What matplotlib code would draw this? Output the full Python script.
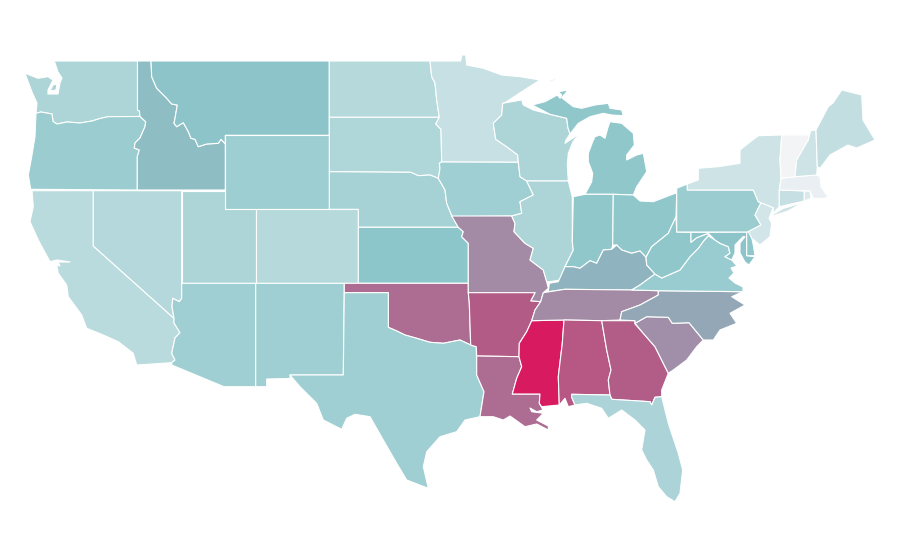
"""Choropleth of the contiguous US states, outlines traced by hand."""

import matplotlib

matplotlib.use("Agg")
import matplotlib.pyplot as plt
from matplotlib.collections import PolyCollection
from matplotlib.colors import LinearSegmentedColormap, Normalize

states = ["WA", "OR", "CA", "NV", "ID", "MT", "WY", "UT", "AZ", "CO", "NM", "ND", "SD", "NE", "KS", "OK", "TX",
          "MN", "IA", "MO", "AR", "LA", "WI", "IL", "MS", "MI", "IN", "OH", "KY", "TN", "AL", "GA", "FL", "SC",
          "NC", "VA", "WV", "MD", "DE", "PA", "NJ", "NY", "CT", "RI", "MA", "VT", "NH", "ME"]
rates = [27.0, 34.0, 22.0, 24.5, 43.0, 41.0, 33.5, 27.0, 32.5, 23.5, 32.5, 23.5, 26.5, 30.0, 40.0, 66.0, 32.5,
         17.5, 32.5, 58.0, 71.0, 66.0, 27.0, 27.0, 100.0, 39.0, 39.0, 39.0, 46.0, 58.0, 73.0, 70.0, 27.5, 57.0,
         50.0, 35.0, 39.0, 41.0, 39.0, 34.0, 13.0, 14.5, 18.0, 10.0, 4.0, 0.0, 15.0, 19.0]

outlines = {
    "WA": [[(54, 61), (137.5, 61), (137.5, 110), (139.5, 111), (140, 116.5), (108, 116.7), (100, 118.5), (92, 121),
            (80, 123), (67, 122), (57, 124), (53, 121.5), (52, 114), (41, 112), (36, 113.3), (37, 103), (32, 92),
            (25, 73.3), (38, 78.3), (48, 76.7), (53, 80), (48, 90), (48, 94), (58, 94), (60, 83), (62, 78),
            (58, 72), (55, 63)],
           [(53, 85), (57, 84), (56, 90), (50, 91)]],
    "OR": [[(36, 113.3), (41, 112), (52, 114), (53, 121.5), (57, 124), (67, 122), (80, 123), (92, 121), (100, 118.5),
            (108, 116.7), (140, 116.5), (145.7, 121.7), (145, 126.7), (140, 138), (135, 143), (134.3, 148),
            (139.3, 150), (137.3, 156.7), (137.3, 190), (30.7, 189.3), (28.3, 175), (31.7, 156.7), (35, 136.7)]],
    "CA": [[(32, 190.7), (93.3, 190.7), (93.3, 246), (174, 318.3), (174, 323), (180, 332.7), (175, 338),
            (171.7, 353.3), (175, 360), (171.7, 362.7), (136.7, 365), (133.3, 353.3), (118.3, 341.7), (103.3, 335),
            (86.7, 328.3), (81.7, 315), (68.3, 296.7), (66.7, 285), (58.3, 273.3), (56.7, 265), (60, 266),
            (58, 262), (70, 262), (57, 260), (50, 261.7), (38.3, 240), (30, 221.7), (33.3, 206.7)]],
    "NV": [[(93.3, 190.7), (181.7, 190.7), (181.7, 298.3), (179.3, 301.7), (172.7, 298.3), (172, 306.7), (174, 318.3),
            (93.3, 246)]],
    "ID": [[(137.5, 61), (151, 61), (151.7, 76.7), (156.7, 88.3), (166.7, 98.3), (171.7, 104), (177.3, 105),
            (175, 118.3), (174, 123.3), (176.7, 126.7), (183.3, 122.7), (188.3, 131.7), (191, 138.3), (195, 139.3),
            (198.3, 146.7), (206.7, 144), (218.3, 143.3), (221, 139.3), (225.3, 144), (225.3, 190), (137.3, 190),
            (137.3, 156.7), (139.3, 150), (134.3, 148), (135, 143), (140, 138), (145, 126.7), (145.7, 121.7),
            (140, 116.5), (139.5, 111), (137.5, 110)]],
    "MT": [[(151, 61), (329.3, 61), (329.3, 135.3), (225.3, 135.3), (225.3, 144), (221, 139.3), (218.3, 143.3),
            (206.7, 144), (198.3, 146.7), (195, 139.3), (191, 138.3), (188.3, 131.7), (183.3, 122.7), (176.7, 126.7),
            (174, 123.3), (175, 118.3), (177.3, 105), (171.7, 104), (166.7, 98.3), (156.7, 88.3), (151.7, 76.7)]],
    "WY": [[(225.3, 135.3), (329.3, 135.3), (329.3, 209.3), (225.3, 209.3)]],
    "UT": [[(181.7, 190.7), (225.3, 190.7), (225.3, 209.3), (255.7, 209.3), (255.7, 283.3), (181.7, 283.3)]],
    "AZ": [[(181.7, 283.3), (255.7, 283.3), (255.7, 386.7), (224, 386.7), (171.7, 365), (171.7, 362.7), (175, 360),
            (171.7, 353.3), (175, 338), (180, 332.7), (174, 323), (174, 318.3), (172, 306.7), (172.7, 298.3),
            (179.3, 301.7), (181.7, 298.3)]],
    "CO": [[(255.7, 209.3), (358.3, 209.3), (358.3, 283.3), (255.7, 283.3)]],
    "NM": [[(255.7, 283.3), (344.3, 283.3), (343.3, 375), (290, 375), (290, 378.5), (266.7, 379), (266.7, 386.7),
            (255.7, 386.7)]],
    "ND": [[(329.3, 61), (430, 61), (431.7, 76.7), (435, 83), (436.7, 100), (439.3, 117.3), (329.3, 117.3)]],
    "SD": [[(329.3, 117.3), (439.3, 117.3), (435.7, 124), (441, 129.3), (441.7, 161.7), (439.3, 163.3), (440, 168.3),
            (438.3, 178.3), (430, 175), (418.3, 175.7), (410.7, 172.3), (329.3, 171.7)]],
    "NE": [[(329.3, 171.7), (410.7, 172.3), (418.3, 175.7), (430, 175), (438.3, 178.3), (445, 190), (446.7, 203.3),
            (451.7, 215.7), (458.3, 227.3), (358.3, 227.3), (358.3, 209.3), (329.3, 209.3)]],
    "KS": [[(358.3, 227.3), (458.3, 227.3), (463.3, 231.7), (461.7, 236.7), (468.3, 243.3), (468.3, 283.3),
            (358.3, 283.3)]],
    "OK": [[(344.3, 283.3), (468.3, 283.3), (468.3, 292.7), (469.3, 303), (470.7, 345), (460, 340), (443.3, 343.3),
            (430, 342.3), (416.7, 338.3), (405, 335), (396.7, 331), (388.3, 327.3), (388.3, 292.7), (344.3, 292.7)]],
    "TX": [[(344.3, 292.7), (388.3, 292.7), (388.3, 327.3), (396.7, 331), (405, 335), (416.7, 338.3), (430, 342.3),
            (443.3, 343.3), (460, 340), (470.7, 345), (476.3, 346.7), (476.7, 375), (484, 391.7), (480, 416.7),
            (465, 420), (456.7, 431.7), (440, 436.7), (426.7, 451.7), (423.3, 466.7), (428.3, 488.3), (406.7, 480),
            (396.7, 463.3), (383.3, 440), (370, 416.7), (355, 414.3), (346.7, 418.3), (341.7, 429.3), (323.3, 420),
            (316.7, 403.3), (300, 386.7), (290, 375), (343.3, 375)]],
    "MN": [[(430, 61), (460.7, 61), (461.7, 55), (465.7, 55), (466.7, 65), (483.3, 68.3), (501.7, 75), (520, 76.7),
            (540, 80), (521.7, 91.7), (505, 102.7), (502.7, 103.3), (501.7, 115), (493.3, 123.3), (495.7, 139.3),
            (506.7, 146.7), (517.7, 155), (518.3, 162.3), (441.7, 162), (441, 129.3), (435.7, 124), (439.3, 117.3),
            (436.7, 100), (435, 83), (431.7, 76.7)]],
    "IA": [[(441.7, 162), (518.3, 162.3), (520, 176.7), (526.7, 181), (533.3, 195), (520, 201.7), (521.7, 213.3),
            (511.7, 216), (452.3, 216.7), (446.7, 203.3), (445, 190), (438.3, 178.3), (440, 168.3), (439.3, 163.3)]],
    "MO": [[(451.7, 216), (511.7, 216), (515, 223.3), (514, 231.7), (525, 243.3), (533.3, 248.3), (530, 260),
            (543.3, 270), (546.7, 281.7), (548.3, 288.3), (543.3, 292.7), (540.7, 301.7), (530.7, 301), (535, 292.7),
            (468.3, 292.7), (468.3, 243.3), (461.7, 236.7), (463.3, 231.7), (458.3, 227.3)]],
    "AR": [[(468.3, 292.7), (535, 292.7), (530.7, 301), (540.7, 301.7), (535, 310), (531.7, 320.7), (526.7, 331.7),
            (519.3, 343.3), (519, 356.7), (476.7, 356), (476.3, 346.7), (470.7, 345), (469.3, 303)]],
    "LA": [[(476.7, 356), (519, 356.7), (521.7, 366.7), (516.7, 378.3), (512.3, 394), (540, 394), (539.3, 403.3),
            (543, 410), (536.7, 411.7), (530, 408), (531.7, 411.7), (543.3, 413.3), (536.7, 420), (548.3, 426),
            (548.3, 430), (536.7, 424), (525, 426.7), (510, 416), (503.3, 420), (493.3, 416.7), (480, 416.7),
            (484, 391.7), (476.7, 375)]],
    "WI": [[(502.7, 103.3), (521.7, 100), (523.3, 105), (533.3, 110), (550, 114.3), (566.7, 118.3), (568, 128),
            (570, 134), (566, 140), (565, 143.3), (575, 136.7), (580, 133), (573, 141.7), (568.3, 153.3),
            (567.3, 165), (568.3, 181), (526.7, 181), (520, 176.7), (518.3, 162.3), (517.7, 155), (506.7, 146.7),
            (495.7, 139.3), (493.3, 123.3), (501.7, 115)]],
    "IL": [[(526.7, 181), (568.3, 181), (572.3, 197), (572.3, 241.7), (573.3, 250), (565, 266.7), (560, 280),
            (550, 281.7), (546.7, 281.7), (543.3, 270), (530, 260), (533.3, 248.3), (525, 243.3), (514, 231.7),
            (515, 223.3), (511.7, 216), (521.7, 213.3), (520, 201.7), (533.3, 195)]],
    "MS": [[(531.7, 320.7), (564, 320), (562.3, 343.3), (558.3, 376.7), (559.3, 405), (541.7, 406.7), (539.3, 403.3),
            (540, 394), (512.3, 394), (516.7, 378.3), (521.7, 366.7), (519, 356.7), (519.3, 343.3), (526.7, 331.7)]],
    "MI": [[(532.3, 105), (545, 101.7), (557.3, 95), (560, 98.3), (561.7, 95), (558.3, 91.7), (568.3, 90),
            (561.7, 97.7), (573.3, 106.7), (581.7, 108.3), (595, 105), (608.3, 103.3), (610, 108.3), (621.7, 110),
            (623.3, 115.7), (611.7, 115), (603.3, 113.3), (590, 116.7), (578.3, 123.3), (570, 134), (568, 128),
            (566.7, 118.3), (550, 114.3)],
           [(585, 194.3), (591.7, 181.7), (592.7, 173.3), (588.3, 161.7), (588.3, 153.3), (592.7, 141.7), (595, 136.7),
            (600, 135), (605, 138.3), (607.7, 128.3), (610, 121.7), (621.7, 123.3), (633.3, 133.3), (634.3, 145),
            (626.7, 155), (626.7, 160), (636.7, 155), (643.3, 153.3), (646.7, 171.7), (636.7, 186.7), (633.3, 195),
            (613.3, 194.3)],
           [(549, 81), (555.7, 78.3), (556, 79.5), (550, 82)]],
    "IN": [[(573.3, 196.7), (585, 194.3), (613.3, 194.3), (612.7, 245), (611.7, 249.3), (603.3, 250), (596.7, 263.3),
            (590, 260.7), (580, 268.3), (573.3, 266.7), (565, 266.7), (573.3, 250), (572.3, 241.7)]],
    "OH": [[(613.3, 194.3), (633.3, 195), (640, 201), (653.3, 201.7), (676.7, 192.7), (676, 216.7), (668.3, 233.3),
            (660, 240), (651.7, 246.7), (646, 257.3), (640, 251), (631.7, 253.3), (621.7, 250), (616.7, 245),
            (612.7, 245)]],
    "KY": [[(548.3, 291.7), (549.3, 283.3), (558.3, 281.7), (565, 266.7), (573.3, 266.7), (580, 268.3), (590, 260.7),
            (596.7, 263.3), (603.3, 250), (611.7, 249.3), (616.7, 245), (621.7, 250), (631.7, 253.3), (640, 251),
            (646, 257.3), (646.7, 265), (655, 274), (640, 285), (631.7, 290), (565, 289.3)]],
    "TN": [[(543.3, 292.7), (565, 289.3), (631.7, 290), (658.3, 290.7), (658.3, 295), (640, 305), (621.7, 311.7),
            (620, 320), (601.7, 320.7), (564, 320), (531.7, 320.7), (535, 310), (540.7, 301.7)]],
    "AL": [[(564, 320), (601.7, 320.7), (606.7, 350), (611, 370), (608.3, 380), (610, 395), (571.7, 394.3),
            (571.7, 397.3), (575, 405), (568.3, 406.7), (565, 398.3), (559.3, 405), (558.3, 376.7), (562.3, 343.3)]],
    "GA": [[(601.7, 320.7), (635, 320.7), (635, 324), (643.3, 333.3), (655, 346.7), (663.3, 363.3), (668.3, 373.3),
            (661.7, 390), (661.7, 396.7), (655, 397.3), (651.7, 405), (650, 401.7), (611.7, 399.3), (610, 395),
            (608.3, 380), (611, 370), (606.7, 350)]],
    "FL": [[(571.7, 394.3), (610, 395), (611.7, 399.3), (650, 401.7), (651.7, 405), (655, 397.3), (661.7, 396.7),
            (668.3, 423.3), (678.3, 453.3), (682.7, 470), (680, 493.3), (675, 501.7), (666.7, 496.7), (658.3, 486.7),
            (653.3, 470), (646.7, 460), (641.7, 450), (645, 430), (635, 420), (621.7, 410), (608.3, 418.3),
            (601.7, 408.3), (586.7, 403.3), (575, 405), (571.7, 397.3)]],
    "SC": [[(635, 323.3), (646.7, 316.7), (668.3, 317.3), (672.3, 323.3), (689, 322.7), (703.3, 340), (696.7, 346.7),
            (686.7, 360), (673.3, 370), (668.3, 373.3), (663.3, 363.3), (655, 346.7), (643.3, 333.3)]],
    "NC": [[(620, 320), (621.7, 311.7), (640, 305), (658.3, 295), (658.3, 290.7), (742.7, 291.7), (731.7, 296.7),
            (745, 305), (730, 313.3), (736.7, 323.3), (720, 330), (713.3, 340), (703.3, 340), (689, 322.7),
            (672.3, 323.3), (668.3, 317.3), (646.7, 316.7), (635, 323.3), (635, 320.7)]],
    "VA": [[(631.7, 290), (640, 285), (655, 274), (661.7, 278), (680, 270), (690, 256.7), (698.3, 248.3), (703, 241.7),
            (708.3, 235.7), (715, 240), (720, 243.3), (728.3, 246.7), (730, 253.3), (725, 256.7), (731.7, 260),
            (737, 266), (731, 268), (734, 273), (729, 278), (735, 283), (743, 287), (743, 291.7), (658.3, 290.7)]],
    "WV": [[(646, 257.3), (651.7, 246.7), (660, 240), (668.3, 233.3), (676, 216.7), (676.7, 232), (691, 232.3),
            (691, 242.3), (696.7, 237.7), (708.3, 233.3), (708.3, 235.7), (703, 241.7), (698.3, 248.3), (690, 256.7),
            (680, 270), (661.7, 278), (655, 274), (646.7, 265)]],
    "MD": [[(691, 232.3), (746.7, 232), (746.7, 255.7), (755, 256.7), (749, 265), (745, 262), (740, 253), (740, 243),
            (745, 236.7), (743, 236.7), (735, 245), (735, 253), (731.7, 260), (725, 256.7), (730, 253.3),
            (728.3, 246.7), (720, 243.3), (715, 240), (708.3, 233.3), (696.7, 237.7), (691, 242.3)]],
    "DE": [[(746.7, 232), (750, 230), (753.3, 245), (755, 255.7), (746.7, 255.7)]],
    "PA": [[(676.7, 188.3), (687.3, 184), (687.3, 190), (753.3, 190), (758.3, 201.7), (761, 202.7), (755, 215),
            (761, 225), (748.3, 231.7), (746.7, 232), (676.7, 232)]],
    "NJ": [[(761, 202.7), (773.3, 207.7), (769, 218.3), (771.7, 223.3), (770, 236.7), (760, 245), (751.7, 238.3),
            (748.3, 231.7), (761, 225), (755, 215)]],
    "NY": [[(687.3, 184), (698.3, 180), (698.3, 168.3), (718.3, 166.7), (740, 163.3), (740, 150), (748.3, 143.3),
            (758.3, 135.7), (781.7, 135), (780, 160), (781, 178.3), (779.3, 190), (779.3, 206.7), (773.3, 213),
            (773.3, 207.7), (761, 202.7), (758.3, 201.7), (753.3, 190), (687.3, 190)],
           [(772, 215), (783, 208.5), (803, 202.5), (788, 211), (773, 216)]],
    "CT": [[(779.3, 190), (804.3, 191), (804.3, 201), (779.3, 206.7)]],
    "RI": [[(804.3, 191), (810, 191), (811, 198.3), (804.3, 201)]],
    "MA": [[(781, 178.3), (795, 176.7), (816.7, 175), (820, 176.7), (821, 186.7), (826.7, 195), (830, 195), (825, 198.3),
            (813.3, 198.3), (810, 191), (779.3, 190)]],
    "VT": [[(781.7, 135), (809, 135), (808.3, 140), (796.7, 160), (795, 176.7), (781, 178.3), (780, 160)]],
    "NH": [[(808.3, 140), (810.7, 130.7), (816, 130), (817.3, 166.7), (816.7, 175), (795, 176.7), (796.7, 160)]],
    "ME": [[(816, 130), (828.3, 106.7), (833, 103), (841.7, 90), (861.7, 95), (863, 120), (875, 140), (856.7, 148),
            (848, 145), (830, 155), (820, 168.3), (817.3, 166.7)]],
}

cmap = LinearSegmentedColormap.from_list(
    "rate_scale",
    [(0.0, "#f3f4f6"), (0.40, "#8cc6ca"), (0.50, "#93a8b7"), (0.58, "#a38aa5"), (0.70, "#b25d88"), (1.0, "#d81b60")],
)


def main():
    fig = plt.figure(figsize=(9, 5.6), dpi=100)
    ax = fig.add_axes([0, 0, 1, 1])

    parts, part_rates = [], []
    for state, rate in zip(states, rates):
        for part in outlines[state]:
            parts.append(part)
            part_rates.append(rate)

    shapes = PolyCollection(parts, array=part_rates, cmap=cmap, norm=Normalize(0, 100),
                            edgecolors="white", linewidths=0.8)
    ax.add_collection(shapes)
    ax.set_xlim(0, 900)
    ax.set_ylim(560, 0)
    ax.axis("off")

    fig.savefig("out.png", dpi=100)
    plt.close(fig)


if __name__ == "__main__":
    main()
